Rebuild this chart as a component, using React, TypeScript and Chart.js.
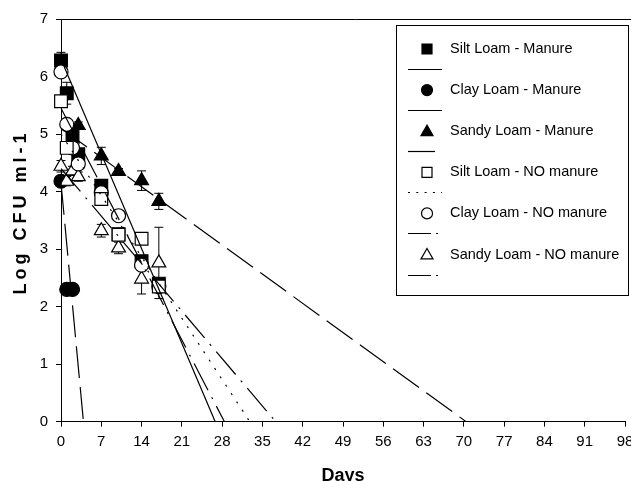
import React, { useEffect, useRef } from 'react';
import { Chart, registerables } from 'chart.js';

Chart.register(...registerables);

const FONT = '"Liberation Sans", Arial, Helvetica, sans-serif';

// ---- axis settings ----
const dayMin = 0;
const dayMax = 98;
const dayStep = 7;
const logMin = 0;
const logMax = 7;
const logStep = 1;
const xTitle = 'Days';
const yTitle = 'Log CFU ml-1';

// ---- series labels ----
const seriesLabels = [
  'Silt Loam - Manure',
  'Clay Loam - Manure',
  'Sandy Loam - Manure',
  'Silt Loam - NO manure',
  'Clay Loam - NO manure',
  'Sandy Loam - NO manure',
];

// ---- measured points (day, log CFU, error) ----
const siltManureDays = [0, 1, 2, 3, 7, 10, 14, 17];
const siltManureLog = [6.28, 5.71, 4.97, 4.65, 4.1, 3.26, 2.79, 2.4];
const siltManureErr = [0.14, 0.19, 0.08, 0.08, 0.08, 0.06, 0.06, 0.05];

const clayManureDays = [0, 1, 2];
const clayManureLog = [4.18, 2.3, 2.3];
const clayManureErr = [0.08, 0.05, 0.05];

const sandyManureDays = [3, 7, 10, 14, 17];
const sandyManureLog = [5.15, 4.62, 4.35, 4.19, 3.83];
const sandyManureErr = [0.06, 0.15, 0.05, 0.17, 0.14];

const siltNoDays = [0, 1, 7, 10, 14, 17];
const siltNoLog = [5.57, 4.76, 3.87, 3.25, 3.18, 2.35];
const siltNoErr = [0.06, 0.06, 0.08, 0.06, 0.0, 0.05];

const clayNoDays = [0, 1, 2, 3, 7, 10, 14, 17];
const clayNoLog = [6.08, 5.17, 4.76, 4.48, 3.98, 3.58, 2.72, 2.35];
const clayNoErr = [0.06, 0.06, 0.06, 0.06, 0.08, 0.08, 0.08, 0.05];

const sandyNoDays = [0, 1, 2, 3, 7, 10, 14, 17];
const sandyNoLog = [4.44, 4.18, 4.36, 4.26, 3.32, 3.02, 2.48, 2.76];
const sandyNoErr = [0.1, 0.08, 0.08, 0.08, 0.11, 0.1, 0.26, 0.62];

// ---- regression lines: log at day 0 and day where log reaches 0 ----
const fitIntercepts = [6.3, 4.15, 5.1, 5.0, 5.45, 4.4];
const fitZeroDays = [26.8, 3.9, 70.4, 32.8, 28.4, 37.3];

// ---- styles ----
const markerStyles = ['rect', 'circle', 'triangle', 'rect', 'circle', 'triangle'];
const markerFilled = [true, true, true, false, false, false];
const markerRadius: Record<string, number> = { rect: 9, circle: 7, triangle: 8 };
const lineDashes: number[][] = [[], [32, 9], [32, 9], [2, 8], [30, 8, 2, 8], [30, 8, 2, 8]];
const legendDashes: number[][] = [[], [], [], [2, 6.3], [23, 5, 2, 20], [23, 5, 2, 20]];
const legendLineLen = [34, 34, 27, 34, 30, 30];

const allDays = [siltManureDays, clayManureDays, sandyManureDays, siltNoDays, clayNoDays, sandyNoDays];
const allLog = [siltManureLog, clayManureLog, sandyManureLog, siltNoLog, clayNoLog, sandyNoLog];
const allErr = [siltManureErr, clayManureErr, sandyManureErr, siltNoErr, clayNoErr, sandyNoErr];

const CANVAS_W = 650;
const CANVAS_H = 490;

function drawShape(ctx: CanvasRenderingContext2D, style: string, filled: boolean, x: number, y: number, s: number) {
  ctx.beginPath();
  if (style === 'rect') {
    ctx.rect(x - s / 2, y - s / 2, s, s);
  } else if (style === 'circle') {
    ctx.arc(x, y, s / 2, 0, Math.PI * 2);
  } else {
    const h = s * 0.87;
    ctx.moveTo(x, y - h * 0.58);
    ctx.lineTo(x + s / 2, y + h * 0.42);
    ctx.lineTo(x - s / 2, y + h * 0.42);
    ctx.closePath();
  }
  ctx.fillStyle = filled ? '#000' : '#fff';
  ctx.fill();
  ctx.lineWidth = 1.2;
  ctx.strokeStyle = '#000';
  ctx.stroke();
}

const errorBarPlugin = {
  id: 'errorBars',
  beforeDatasetsDraw(chart: any) {
    const { ctx } = chart;
    const xs = chart.scales.x;
    const ys = chart.scales.y;
    ctx.save();
    ctx.strokeStyle = '#000';
    ctx.lineWidth = 1;
    allDays.forEach((days, si) => {
      days.forEach((d, i) => {
        const e = allErr[si][i];
        if (!e) return;
        const v = allLog[si][i];
        const px = xs.getPixelForValue(d);
        const top = ys.getPixelForValue(v + e);
        const bot = ys.getPixelForValue(v - e);
        ctx.beginPath();
        ctx.moveTo(px, top);
        ctx.lineTo(px, bot);
        ctx.moveTo(px - 4.5, top);
        ctx.lineTo(px + 4.5, top);
        ctx.moveTo(px - 4.5, bot);
        ctx.lineTo(px + 4.5, bot);
        ctx.stroke();
      });
    });
    ctx.restore();
  },
};

const framePlugin = {
  id: 'frameAndText',
  afterDraw(chart: any) {
    const { ctx, chartArea, width } = chart;
    ctx.save();
    // top frame line
    ctx.strokeStyle = '#000';
    ctx.lineWidth = 1;
    ctx.beginPath();
    ctx.moveTo(chartArea.left, Math.round(chartArea.top) + 0.5);
    ctx.lineTo(width, Math.round(chartArea.top) + 0.5);
    ctx.stroke();

    // y axis title
    ctx.save();
    ctx.translate(21, 212);
    ctx.rotate(-Math.PI / 2);
    ctx.font = `bold 18px ${FONT}`;
    (ctx as any).letterSpacing = '4px';
    ctx.textAlign = 'center';
    ctx.textBaseline = 'middle';
    ctx.fillStyle = '#000';
    ctx.fillText(yTitle, 0, 0);
    ctx.restore();

    // legend box
    const bx = chartArea.left + 335.5;
    const by = chartArea.top + 6.5;
    const bw = 232;
    const bh = 270;
    ctx.fillStyle = '#fff';
    ctx.fillRect(bx, by, bw, bh);
    ctx.strokeStyle = '#000';
    ctx.lineWidth = 1;
    ctx.strokeRect(bx, by, bw, bh);

    seriesLabels.forEach((label, i) => {
      const ry = by + 23.5 + i * 41.1;
      const mx = bx + 30.5;
      const msz = markerStyles[i] === 'rect' ? 10 : markerStyles[i] === 'circle' ? 11 : 12;
      drawShape(ctx, markerStyles[i], markerFilled[i], mx, ry, msz);
      ctx.fillStyle = '#000';
      ctx.font = `14.5px ${FONT}`;
      ctx.textAlign = 'left';
      ctx.textBaseline = 'middle';
      ctx.fillText(label, bx + 53.5, ry);
      // line sample
      const ly = Math.round(ry + 20) + 0.5;
      ctx.beginPath();
      ctx.setLineDash(legendDashes[i]);
      ctx.lineWidth = 1.2;
      ctx.moveTo(bx + 11.5, ly);
      ctx.lineTo(bx + 11.5 + legendLineLen[i], ly);
      ctx.stroke();
      ctx.setLineDash([]);
    });
    ctx.restore();
  },
};

export default function App() {
  const ref = useRef<HTMLCanvasElement>(null);

  useEffect(() => {
    if (!ref.current) return;

    const markerSets = allDays.map((days, si) => ({
      type: 'line' as const,
      label: seriesLabels[si],
      data: days.map((d, i) => ({ x: d, y: allLog[si][i] })),
      showLine: false,
      pointStyle: markerStyles[si] as any,
      pointRadius: markerRadius[markerStyles[si]],
      pointHoverRadius: markerRadius[markerStyles[si]],
      pointBackgroundColor: markerFilled[si] ? '#000' : '#fff',
      pointBorderColor: '#000',
      pointBorderWidth: 1.2,
      borderColor: '#000',
      backgroundColor: markerFilled[si] ? '#000' : '#fff',
      clip: false as any,
      order: markerFilled[si] ? 3 : 2,
    }));

    const fitSets = fitIntercepts.map((b, si) => ({
      type: 'line' as const,
      label: seriesLabels[si] + ' fit',
      data: [
        { x: 0, y: b },
        { x: fitZeroDays[si], y: 0 },
      ],
      showLine: true,
      borderColor: '#000',
      borderWidth: 1.2,
      borderDash: lineDashes[si],
      pointRadius: 0,
      fill: false,
      tension: 0,
      order: 1,
    }));

    const chart = new Chart(ref.current, {
      type: 'scatter',
      data: { datasets: [...fitSets, ...markerSets] as any },
      plugins: [errorBarPlugin, framePlugin],
      options: {
        responsive: false,
        animation: false,
        events: [],
        layout: { padding: { top: 19, right: CANVAS_W - 625, left: 0, bottom: 0 } },
        plugins: {
          legend: { display: false },
          tooltip: { enabled: false },
        },
        scales: {
          x: {
            type: 'linear',
            min: dayMin,
            max: dayMax,
            ticks: {
              stepSize: dayStep,
              autoSkip: false,
              maxRotation: 0,
              color: '#000',
              padding: 6,
              font: { family: FONT, size: 15 },
            },
            grid: { drawOnChartArea: false, drawTicks: true, tickLength: 5, color: '#000' },
            border: { display: true, color: '#000', width: 1 },
            title: {
              display: true,
              text: xTitle,
              color: '#000',
              font: { family: FONT, size: 18, weight: 'bold' },
              padding: { top: 0, bottom: 3.5 },
            },
            afterFit: (s: any) => {
              s.height = CANVAS_H - 421.7;
            },
          },
          y: {
            type: 'linear',
            min: logMin,
            max: logMax,
            ticks: {
              stepSize: logStep,
              color: '#000',
              padding: 8,
              font: { family: FONT, size: 15 },
            },
            grid: { drawOnChartArea: false, drawTicks: true, tickLength: 5, color: '#000' },
            border: { display: true, color: '#000', width: 1 },
            afterFit: (s: any) => {
              s.width = 61;
            },
          },
        },
      } as any,
    });

    return () => chart.destroy();
  }, []);

  return (
    <div style={{ position: 'fixed', left: 0, top: 0, width: CANVAS_W, height: CANVAS_H, background: '#fff' }}>
      <canvas ref={ref} width={CANVAS_W} height={CANVAS_H} style={{ display: 'block' }} />
    </div>
  );
}
